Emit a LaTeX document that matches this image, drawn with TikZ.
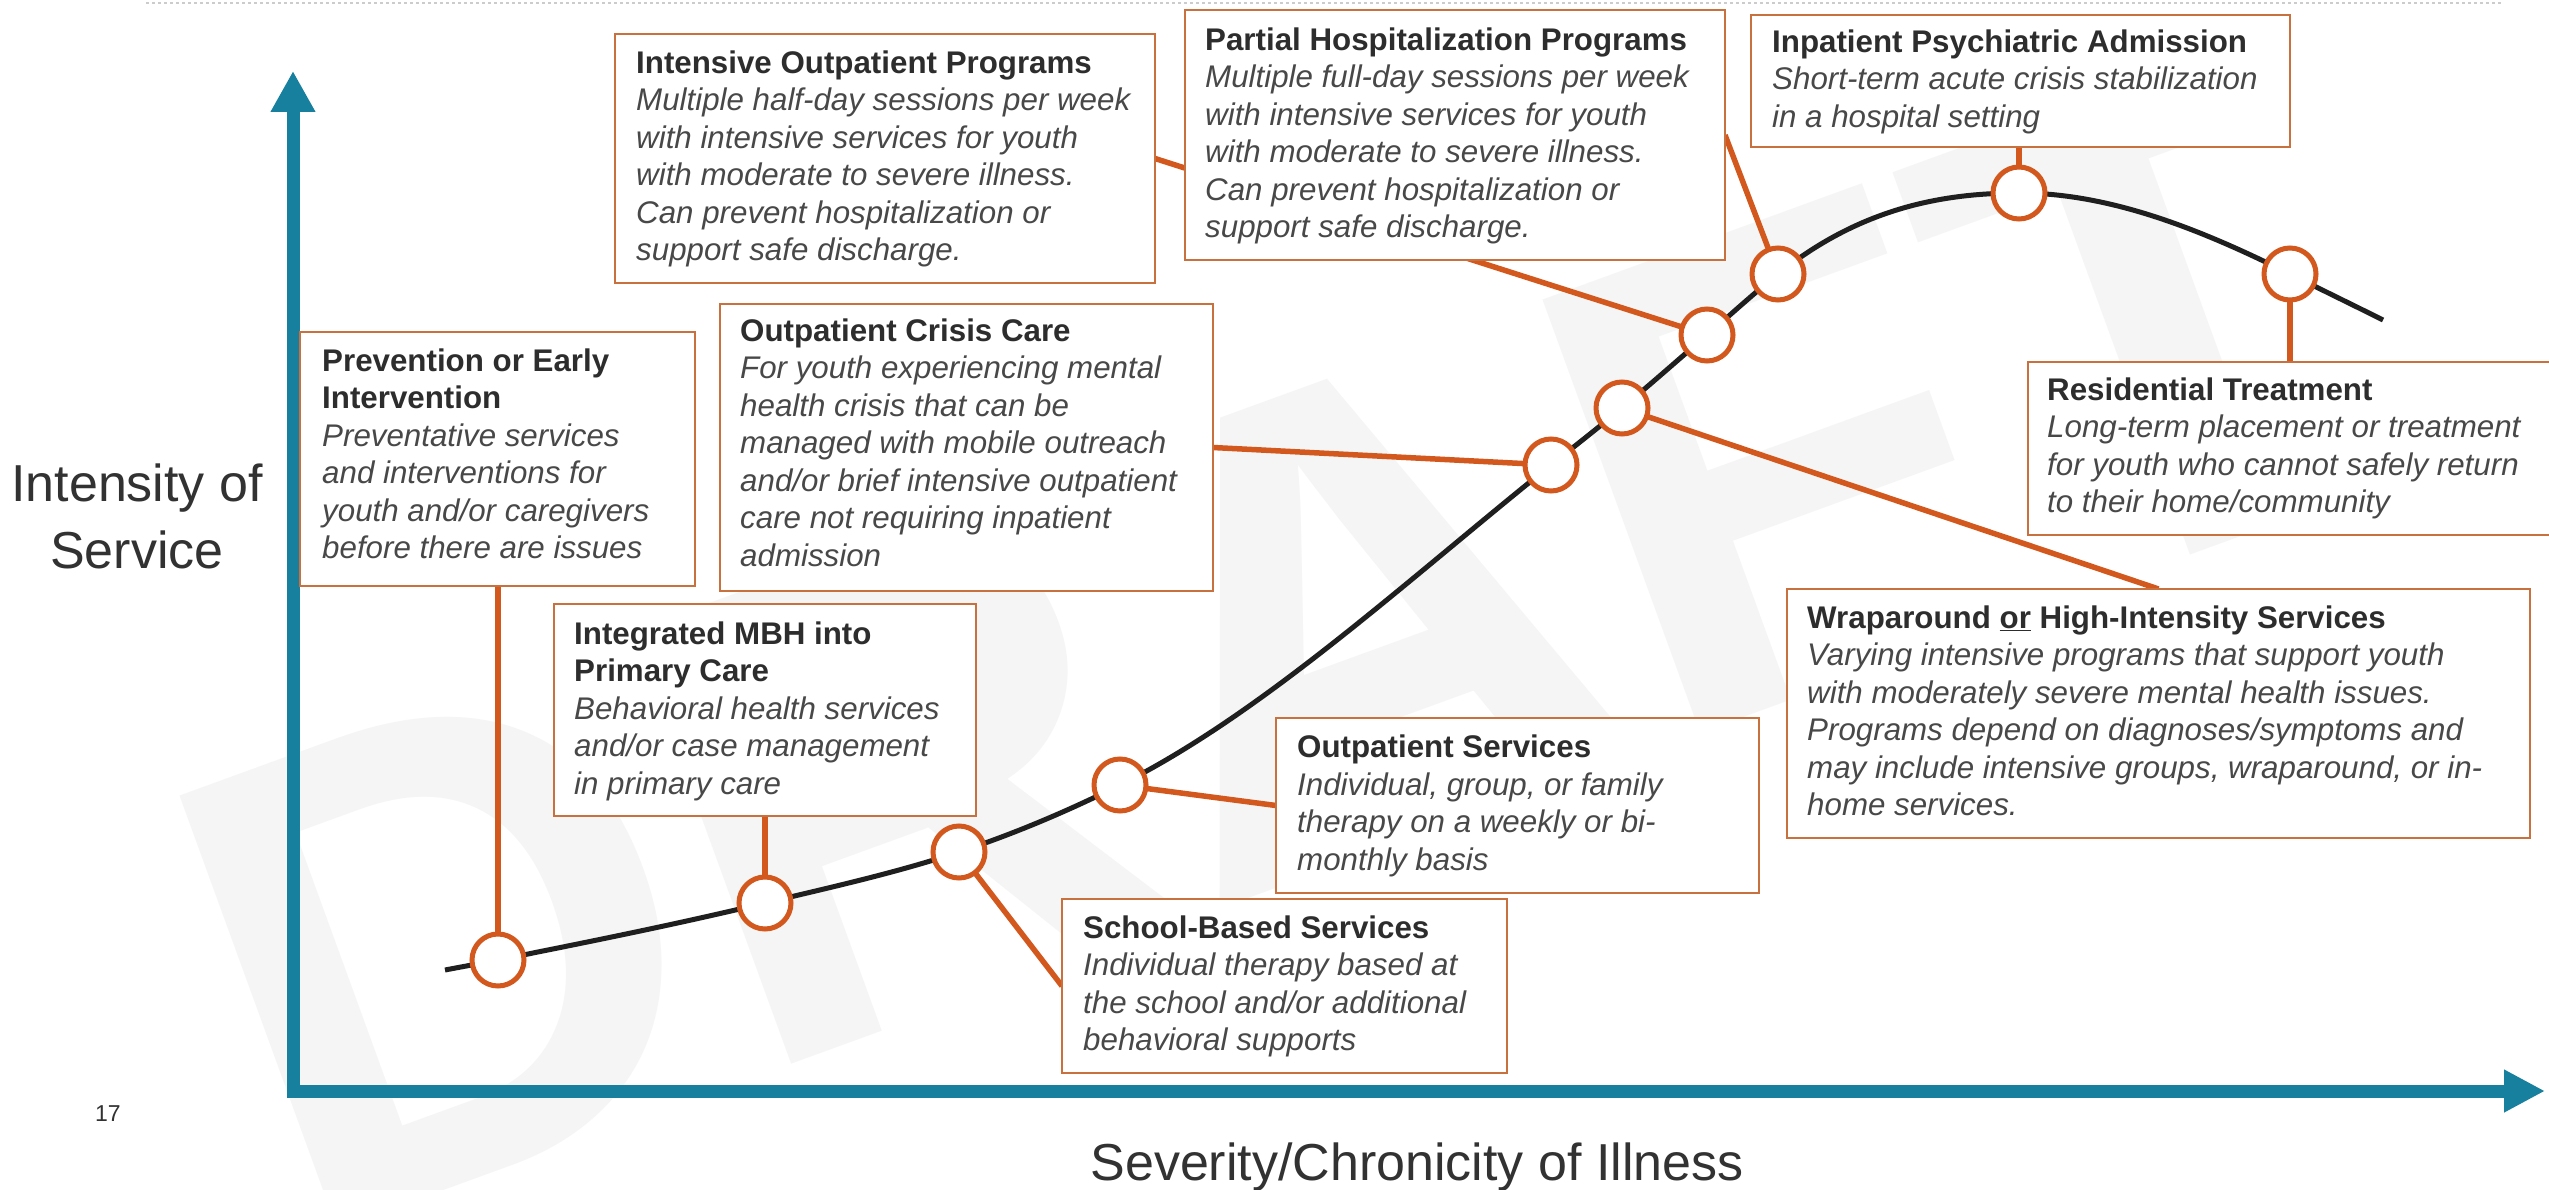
\documentclass[tikz,border=0pt]{standalone}
\usepackage{fontspec}
\setmainfont{Liberation Sans}
\usetikzlibrary{arrows.meta,calc}
\pgfdeclarelayer{wmlayer}
\pgfdeclarelayer{backlayer}
\pgfsetlayers{wmlayer,backlayer,main}
\definecolor{tealax}{RGB}{23,128,158}
\definecolor{connc}{RGB}{210,88,30}
\definecolor{boxc}{RGB}{200,112,62}
\definecolor{titlec}{RGB}{45,45,45}
\definecolor{bodyc}{RGB}{72,72,72}
\definecolor{labc}{RGB}{50,50,50}
\newcommand{\boxhead}[1]{\strut{\upshape\bfseries\color{titlec}#1}}
\begin{document}
\begin{tikzpicture}[x=1pt,y=-1pt,
  infobox/.style={draw=boxc, line width=2.5pt, fill=white, anchor=north west, inner sep=0pt, outer sep=0pt},
  infotext/.style={anchor=north west, inner sep=0pt, align=left, text=bodyc, font=\fontsize{31.3}{37.5}\selectfont\itshape},
  link/.style={draw=connc, line width=5.5pt},
  stage/.style={circle, draw=connc, line width=5pt, fill=white, minimum size=52pt, inner sep=0pt},
  trend/.style={line width=5pt, draw=black!88},
  axlabel/.style={text=labc, font=\fontsize{52}{67}\selectfont, inner sep=0pt, align=center},
  wmark/.style={rotate=20, anchor=base west, inner sep=0pt, text=black!4, font=\fontsize{670}{670}\selectfont\bfseries}
]
\useasboundingbox (0,0) rectangle (2549,1190);

% background and watermark
\begin{pgfonlayer}{wmlayer}
  \fill[white] (0,0) rectangle (2549,1190);
  \node[wmark] (wm) at (295,1245) {DRAFT};
  \draw[gray!40, line width=2pt, dash pattern=on 3pt off 3pt] (146,3) -- (2503,3);
\end{pgfonlayer}

% boxes
\node[infobox, minimum width=395pt, minimum height=254pt] (prev) at (300,332) {};
\node[infobox, minimum width=493pt, minimum height=287pt] (crisis) at (720,304) {};
\node[infobox, minimum width=540pt, minimum height=249pt] (iop) at (615,34) {};
\node[infobox, minimum width=540pt, minimum height=250pt] (php) at (1185,10) {};
\node[infobox, minimum width=539pt, minimum height=132pt] (inp) at (1751,15) {};
\node[infobox, minimum width=545pt, minimum height=173pt] (res) at (2028,362) {};
\node[infobox, minimum width=743pt, minimum height=249pt] (wrap) at (1787,589) {};
\node[infobox, minimum width=422pt, minimum height=212pt] (mbh) at (554,604) {};
\node[infobox, minimum width=483pt, minimum height=175pt] (os) at (1276,718) {};
\node[infobox, minimum width=445pt, minimum height=174pt] (school) at (1062,899) {};

% box texts
\node[infotext] (prev-t) at ($(prev.north west)+(22,12.75)$) {\boxhead{Prevention or Early}\\\boxhead{Intervention}\\Preventative services\\and interventions for\\youth and/or caregivers\\before there are issues};
\node[infotext] (crisis-t) at ($(crisis.north west)+(20,10.75)$) {\boxhead{Outpatient Crisis Care}\\For youth experiencing mental\\health crisis that can be\\managed with mobile outreach\\and/or brief intensive outpatient\\care not requiring inpatient\\admission};
\node[infotext] (iop-t) at ($(iop.north west)+(21,12.75)$) {\boxhead{Intensive Outpatient Programs}\\Multiple half-day sessions per week\\with intensive services for youth\\with moderate to severe illness.\\Can prevent hospitalization or\\support safe discharge.};
\node[infotext] (php-t) at ($(php.north west)+(20,13.75)$) {\boxhead{Partial Hospitalization Programs}\\Multiple full-day sessions per week\\with intensive services for youth\\with moderate to severe illness.\\Can prevent hospitalization or\\support safe discharge.};
\node[infotext] (inp-t) at ($(inp.north west)+(21,10.75)$) {\boxhead{Inpatient Psychiatric Admission}\\Short-term acute crisis stabilization\\in a hospital setting};
\node[infotext] (res-t) at ($(res.north west)+(19,11.75)$) {\boxhead{Residential Treatment}\\Long-term placement or treatment\\for youth who cannot safely return\\to their home/community};
\node[infotext] (wrap-t) at ($(wrap.north west)+(20,12.75)$) {\boxhead{Wraparound \underline{or} High-Intensity Services}\\Varying intensive programs that support youth\\with moderately severe mental health issues.\\Programs depend on diagnoses/symptoms and\\may include intensive groups, wraparound, or in-\\home services.};
\node[infotext] (mbh-t) at ($(mbh.north west)+(20,13.75)$) {\boxhead{Integrated MBH into}\\\boxhead{Primary Care}\\Behavioral health services\\and/or case management\\in primary care};
\node[infotext] (os-t) at ($(os.north west)+(21,13.25)$) {\boxhead{Outpatient Services}\\Individual, group, or family\\therapy on a weekly or bi-\\monthly basis};
\node[infotext] (school-t) at ($(school.north west)+(21,12.75)$) {\boxhead{School-Based Services}\\Individual therapy based at\\the school and/or additional\\behavioral supports};

% points on the curve
\coordinate (p-start) at (445,970);
\coordinate (p-prev) at (498,960);
\coordinate (p-mbh) at (765,903);
\coordinate (p-school) at (959,852);
\coordinate (p-os) at (1120,785);
\coordinate (p-crisis) at (1551,465);
\coordinate (p-wrap) at (1622,408);
\coordinate (p-iop) at (1707,335);
\coordinate (p-php) at (1778,274);
\coordinate (p-inp) at (2019,193);
\coordinate (p-res) at (2290,274);
\coordinate (p-end) at (2383,320);

% axes
\coordinate (ytip) at (293,71);
\coordinate (origin) at (293,1091);
\coordinate (xtip) at (2545,1091);

\begin{pgfonlayer}{backlayer}
  \draw[draw=tealax, line width=13pt, line join=miter,
        {Triangle[length=41pt 0 0,width=42pt 0 0]}-{Triangle[length=41pt 0 0,width=40pt 0 0]}]
        (ytip) -- (origin) -- (xtip);
  \draw[trend] (p-start)
     .. controls (462.7,966.6) and (480.3,963.5) .. (p-prev)
     .. controls (587,942.2) and (676,924.4) .. (p-mbh)
     .. controls (829.7,887.5) and (894.3,873.3) .. (p-school)
     .. controls (1012.7,834.3) and (1066.3,811.8) .. (p-os)
     .. controls (1263.7,713.2) and (1407.3,580) .. (p-crisis)
     .. controls (1574.7,446.1) and (1598.3,427.7) .. (p-wrap)
     .. controls (1650.3,384.5) and (1678.7,359.3) .. (p-iop)
     .. controls (1730.7,314.6) and (1754.3,292.9) .. (p-php)
     .. controls (1858.3,209.8) and (1938.7,193) .. (p-inp)
     .. controls (2109.3,193) and (2199.7,228.8) .. (p-res)
     .. controls (2321,289.5) and (2352,304.5) .. (p-end);
  \draw[link] (prev.south -| p-prev) -- (p-prev);
  \draw[link] (mbh.south -| p-mbh) -- (p-mbh);
  \draw[link] (school.west) -- (p-school);
  \draw[link] (os.west) -- (p-os);
  \draw[link] (crisis.east) -- (p-crisis);
  \draw[link] (wrap.north) -- (p-wrap);
  \draw[link] (iop.east) -- (p-iop);
  \draw[link] (php.east) -- (p-php);
  \draw[link] (inp.south -| p-inp) -- (p-inp);
  \draw[link] (res.north -| p-res) -- (p-res);
\end{pgfonlayer}

% circles
\foreach \n in {prev,mbh,school,os,crisis,wrap,iop,php,inp,res}
  \node[stage] (c-\n) at (p-\n) {};

% labels
\node[axlabel, anchor=north] (ylab) at (137,454.1) {\strut Intensity of\\Service};
\node[axlabel, anchor=base] (xlab) at (1417,1180) {Severity/Chronicity of Illness};
\node[text=labc, font=\fontsize{23}{23}\selectfont, inner sep=0pt, anchor=base west] (pnum) at (95,1121) {17};
\end{tikzpicture}
\end{document}
